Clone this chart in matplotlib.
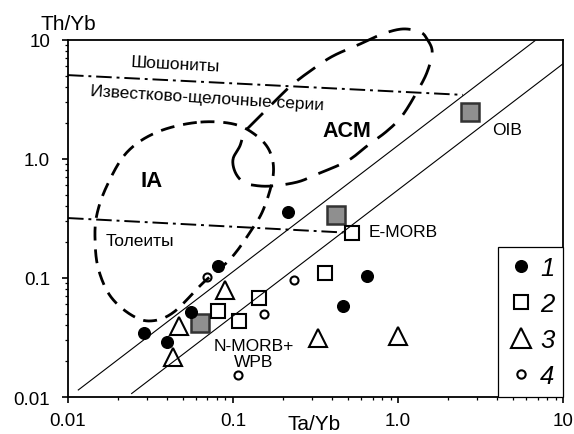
import numpy as np
import matplotlib
matplotlib.use('Agg')
import matplotlib.pyplot as plt
from matplotlib.ticker import LogLocator, NullFormatter
from matplotlib.lines import Line2D

plt.rcParams['font.family'] = ['Liberation Sans', 'DejaVu Sans']

# -----------------------------
# data (Ta/Yb, Th/Yb)
# -----------------------------
# 1 - filled circles
s1_ta = [0.029, 0.040, 0.056, 0.0815, 0.214, 0.467, 0.645]
s1_th = [0.0348, 0.029, 0.0518, 0.126, 0.359, 0.0582, 0.104]
# 2 - open squares
s2_ta = [0.0815, 0.109, 0.144, 0.361, 0.524]
s2_th = [0.053, 0.0433, 0.0684, 0.111, 0.236]
# 3 - open triangles
s3_ta = [0.0434, 0.0471, 0.090, 0.329, 1.0]
s3_th = [0.0218, 0.0395, 0.0796, 0.0316, 0.0326]
# 4 - small open circles
s4_ta = [0.0693, 0.1076, 0.153, 0.234]
s4_th = [0.102, 0.0152, 0.050, 0.096]

# reference compositions (grey squares)
ref_names = ['N-MORB', 'E-MORB', 'OIB']
ref_ta = [0.063, 0.421, 2.73]
ref_th = [0.042, 0.336, 2.45]

# MORB-OIB array borders
arr_upper_ta = [0.01154, 6.76]
arr_upper_th = [0.01146, 9.81]
arr_lower_ta = [0.0243, 9.95]
arr_lower_th = [0.0107, 6.25]

# series boundaries (dash-dot)
shosh_ta = [0.01, 2.47]
shosh_th = [5.04, 3.44]
thol_ta = [0.01, 0.467]
thol_th = [0.318, 0.2406]

# IA field outline
ia_ta = [0.0603, 0.0345, 0.0227, 0.0172, 0.0149, 0.0146, 0.0153, 0.0180, 0.0238,
         0.0314, 0.0434, 0.0661, 0.0959, 0.1268, 0.153, 0.175, 0.168, 0.139, 0.1004]
ia_th = [2.02, 1.67, 1.13, 0.593, 0.332, 0.198, 0.118, 0.0707, 0.0495,
         0.0435, 0.0512, 0.0914, 0.1435, 0.242, 0.378, 0.720, 1.13, 1.56, 1.96]

# ACM field outline
acm_ta = [0.100, 0.103, 0.115, 0.132, 0.168, 0.244, 0.323, 0.491, 0.648, 0.857,
          1.057, 1.30, 1.50, 1.61, 1.50, 1.36, 1.07, 0.811, 0.589, 0.404,
          0.305, 0.231, 0.193, 0.161, 0.140, 0.118, 0.110]
acm_th = [0.994, 0.773, 0.637, 0.601, 0.590, 0.637, 0.743, 0.957, 1.28, 1.71,
          2.29, 3.63, 5.35, 7.89, 10.1, 11.6, 12.3, 11.2, 9.20, 7.30,
          5.67, 4.25, 3.37, 2.62, 2.16, 1.68, 1.28]


def smooth_closed(xs, ys, n=16):
    # periodic Catmull-Rom spline in log space
    px = np.log10(xs)
    py = np.log10(ys)
    m = len(px)
    out_x, out_y = [], []
    t = np.linspace(0, 1, n, endpoint=False)
    for i in range(m):
        p0 = np.array([px[i - 1], py[i - 1]])
        p1 = np.array([px[i], py[i]])
        p2 = np.array([px[(i + 1) % m], py[(i + 1) % m]])
        p3 = np.array([px[(i + 2) % m], py[(i + 2) % m]])
        for tt in t:
            pt = 0.5 * ((2 * p1) + (-p0 + p2) * tt
                        + (2 * p0 - 5 * p1 + 4 * p2 - p3) * tt**2
                        + (-p0 + 3 * p1 - 3 * p2 + p3) * tt**3)
            out_x.append(pt[0])
            out_y.append(pt[1])
    out_x.append(out_x[0])
    out_y.append(out_y[0])
    return 10 ** np.array(out_x), 10 ** np.array(out_y)


fig = plt.figure(figsize=(5.74, 4.35), dpi=100)
ax = fig.add_axes([0.1185, 0.085, 0.8625, 0.8215])
ax.set_xscale('log')
ax.set_yscale('log')
ax.set_xlim(0.01, 10)
ax.set_ylim(0.01, 10)

# array lines
ax.plot(arr_upper_ta, arr_upper_th, color='black', lw=0.8, zorder=2)
ax.plot(arr_lower_ta, arr_lower_th, color='black', lw=0.8, zorder=2)

# dash-dot boundaries
ax.plot(shosh_ta, shosh_th, color='black', lw=1.4, ls=(0, (8, 2.5, 1.5, 2.5)), zorder=2)
ax.plot(thol_ta, thol_th, color='black', lw=1.4, ls=(0, (8, 2.5, 1.5, 2.5)), zorder=2)

# fields
xi, yi = smooth_closed(ia_ta, ia_th)
ax.plot(xi, yi, color='black', lw=2.0, ls=(0, (5, 3.2)), zorder=2)
xa, ya = smooth_closed(acm_ta, acm_th)
ax.plot(xa, ya, color='black', lw=2.0, ls=(0, (8, 4.5)), zorder=2, clip_on=False)

# samples
ax.plot(s1_ta, s1_th, 'o', ms=8.4, mfc='black', mec='black', zorder=4)
ax.plot(s2_ta, s2_th, 's', ms=9.5, mfc='none', mec='black', mew=1.5, zorder=4)
ax.plot(s3_ta, s3_th, '^', ms=13, mfc='none', mec='black', mew=1.5, zorder=4)
ax.plot(s4_ta, s4_th, 'o', ms=5.8, mfc='none', mec='black', mew=1.5, zorder=4)
ax.plot(ref_ta, ref_th, 's', ms=12.5, mfc='#8f8f8f', mec='#333333', mew=1.8, zorder=3)

# labels
ax.text(0.0445, 6.25, 'Шошониты', fontsize=12.5, ha='center', va='center', rotation=-3)
ax.text(0.0695, 3.24, 'Известково-щелочные серии', fontsize=12.5, ha='center',
        va='center', rotation=-3.5)
ax.text(0.0273, 0.2075, 'Толеиты', fontsize=12.5, ha='center', va='center')
ax.text(0.0323, 0.662, 'IA', fontsize=16, fontweight='bold', ha='center', va='center')
ax.text(0.491, 1.74, 'ACM', fontsize=15.5, fontweight='bold', ha='center', va='center')
ax.text(4.58, 1.77, 'OIB', fontsize=12.5, ha='center', va='center')
ax.text(1.07, 0.247, 'E-MORB', fontsize=12.5, ha='center', va='center')
ax.text(0.134, 0.0233, 'N-MORB+\nWPB', fontsize=12.5, ha='center', va='center',
        linespacing=1.05)

# axes styling
ax.set_xticks([0.01, 0.1, 1, 10], ['0.01', '0.1', '1.0', '10'])
ax.set_yticks([0.01, 0.1, 1, 10], ['0.01', '0.1', '1.0', '10'])
for axis in (ax.xaxis, ax.yaxis):
    axis.set_minor_locator(LogLocator(base=10, subs=np.arange(2, 10)))
    axis.set_minor_formatter(NullFormatter())
ax.tick_params(which='major', length=4.3, width=1.2, labelsize=13.5)
ax.tick_params(axis='x', which='major', pad=6.5)
ax.tick_params(axis='y', which='major', pad=8.5)
ax.tick_params(which='minor', length=2.5, width=0.9)
ax.tick_params(top=False, right=False, which='both')
for sp in ax.spines.values():
    sp.set_linewidth(1.3)

ax.set_xlabel('Ta/Yb', fontsize=15)
ax.xaxis.set_label_coords(0.497, -0.073)
ax.xaxis.label.set_va('center')
ax.text(0.0, 1.044, 'Th/Yb', fontsize=15, ha='center', va='center', transform=ax.transAxes)

handles = [
    Line2D([], [], ls='none', marker='o', ms=8.4, mfc='black', mec='black'),
    Line2D([], [], ls='none', marker='s', ms=10, mfc='none', mec='black', mew=1.5),
    Line2D([], [], ls='none', marker='^', ms=14, mfc='none', mec='black', mew=1.5),
    Line2D([], [], ls='none', marker='o', ms=6, mfc='none', mec='black', mew=1.5),
]
leg = ax.legend(handles, ['1', '2', '3', '4'], loc='lower right', bbox_to_anchor=(1, 0),
                borderaxespad=0, fancybox=False, framealpha=1, edgecolor='black',
                prop={'size': 18.5, 'style': 'italic'}, labelspacing=0.47,
                handlelength=1.09, handletextpad=0.2, borderpad=0.34)
leg.get_frame().set_linewidth(0.9)

fig.savefig('out.png', dpi=100)
